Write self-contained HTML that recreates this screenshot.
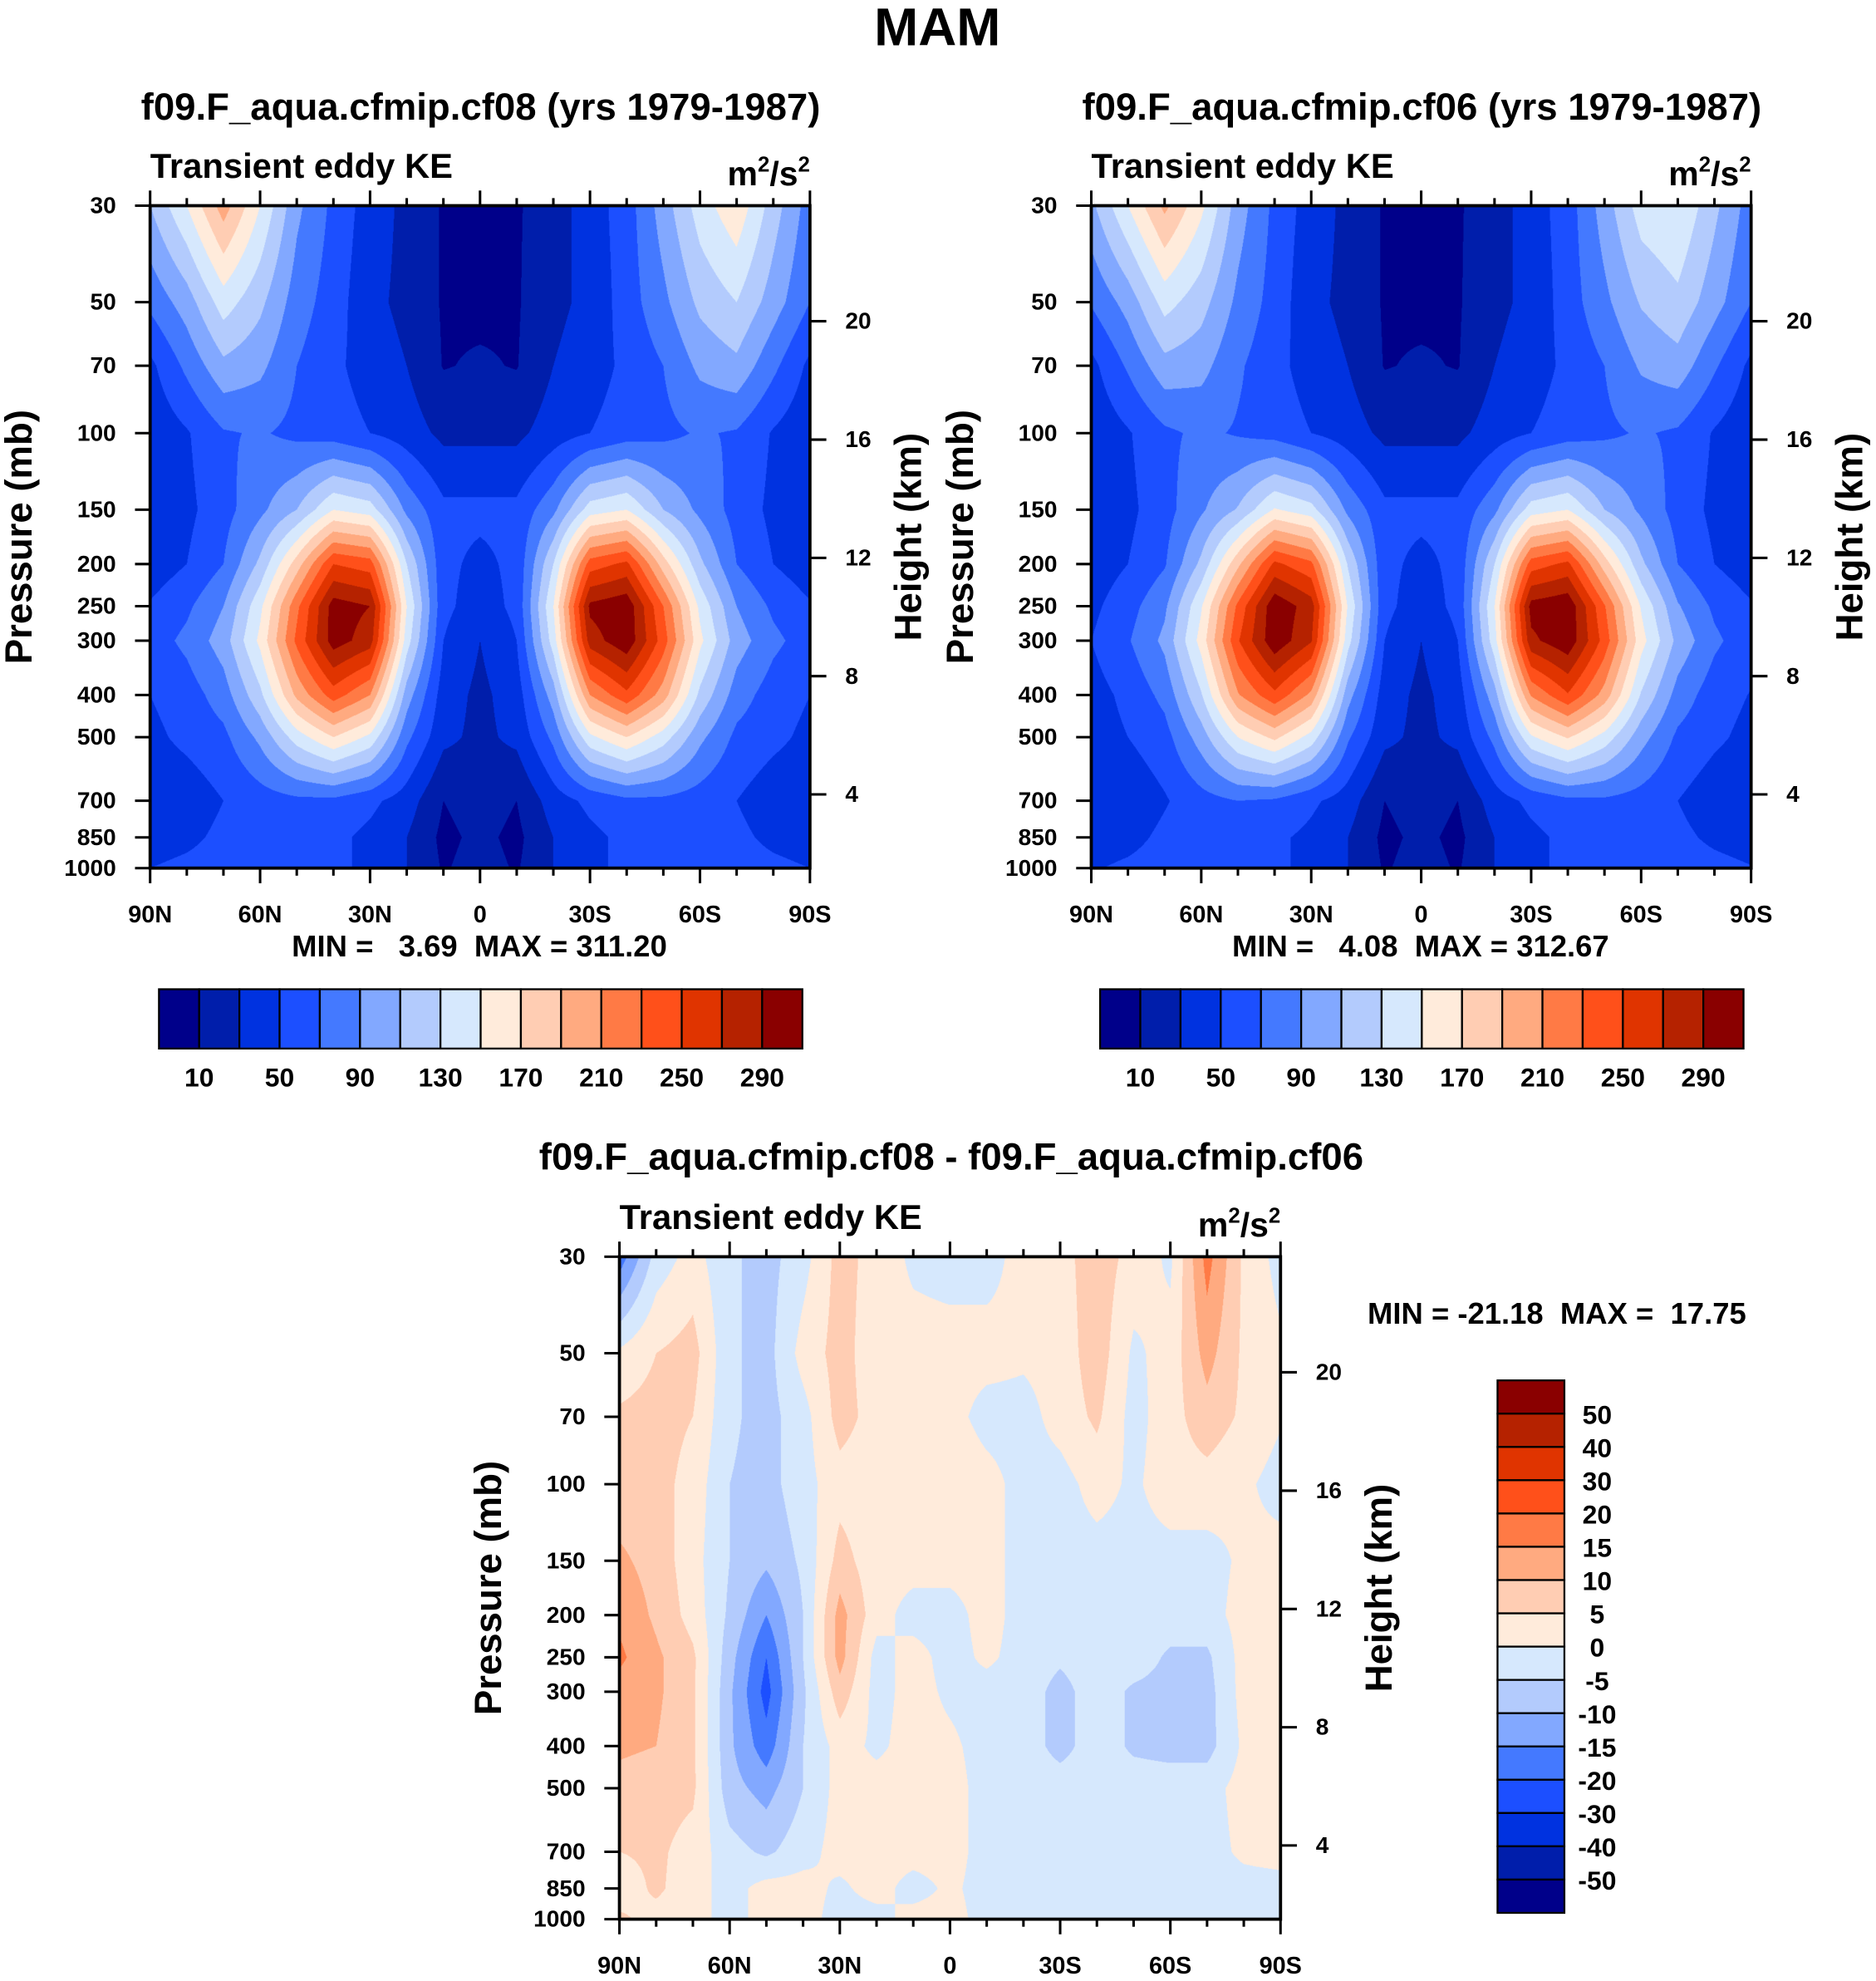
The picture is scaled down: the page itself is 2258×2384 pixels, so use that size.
<!DOCTYPE html>
<html><head><meta charset="utf-8">
<style>
html,body{margin:0;padding:0;background:#fff;}
body{width:2258px;height:2384px;overflow:hidden;position:relative;}
#wrap{position:absolute;left:0;top:0;width:1487px;height:1570px;transform-origin:0 0;transform:scale(1.51849,1.51847);}
canvas{position:absolute;}
svg{position:absolute;left:0;top:0;}
text{font-family:"Liberation Sans",Arial,sans-serif;font-weight:bold;fill:#000;}
</style></head>
<body>
<div id="wrap">
<canvas id="c1" style="left:119px;top:163px;width:523px;height:525px" width="1046" height="1050"></canvas>
<canvas id="c2" style="left:865px;top:163px;width:523px;height:525px" width="1046" height="1050"></canvas>
<canvas id="c3" style="left:491px;top:996px;width:524px;height:525px" width="1048" height="1050"></canvas>
<svg id="svg" width="1487" height="1570" viewBox="0 0 1487 1570">
<text x="743" y="36" font-size="42" text-anchor="middle">MAM</text>
<text x="381" y="95" font-size="30" text-anchor="middle">f09.F_aqua.cfmip.cf08 (yrs 1979-1987)</text>
<text x="1127" y="95" font-size="30" text-anchor="middle">f09.F_aqua.cfmip.cf06 (yrs 1979-1987)</text>
<text x="754" y="927" font-size="30" text-anchor="middle">f09.F_aqua.cfmip.cf08 - f09.F_aqua.cfmip.cf06</text>
<text x="380" y="758" font-size="24" text-anchor="middle" xml:space="preserve">MIN =   3.69  MAX = 311.20</text>
<text x="1126" y="758" font-size="24" text-anchor="middle" xml:space="preserve">MIN =   4.08  MAX = 312.67</text>
<text x="1084" y="1049" font-size="24" xml:space="preserve">MIN = -21.18  MAX =  17.75</text>
</svg>
</div>
<script>
const lats=["90N","80N","70N","60N","50N","40N","30N","20N","10N","0","10S","20S","30S","40S","50S","60S","70S","80S","90S"];
const levs=[30,50,70,100,150,200,250,300,400,500,700,850,1000];
const xTickLabels=["90N","60N","30N","0","30S","60S","90S"];
const heightTicks=[20,16,12,8,4];
const heightTickPressures=[55.3,103.5,193.6,362,677];
const keBounds=[10,30,50,70,90,110,130,150,170,190,210,230,250,270,290];
const keLabels=["10","50","90","130","170","210","250","290"];
const diffBounds=[-50,-40,-30,-20,-15,-10,-5,0,5,10,15,20,30,40,50];
const diffLabels=["-50","-40","-30","-20","-15","-10","-5","0","5","10","15","20","30","40","50"];
const palette=["#00008a","#001eab","#0032e0","#1c4fff","#4479ff","#82a8ff","#b3cbfd","#d6e8fd","#ffebdb","#ffcdb3","#ffaa80","#ff7a45","#ff501a","#e03400","#b52200","#8a0000"];
const ke08=[
[110,150,200,150,95,65,40,25,8,5,8,20,40,60,100,140,165,120,80],
[75,100,140,115,80,60,35,25,8,6,8,25,35,60,85,115,130,100,70],
[45,75,105,95,70,55,40,30,9,12,9,30,40,55,70,95,105,75,45],
[35,48,68,72,65,60,50,40,25,25,25,40,50,60,65,72,68,48,35],
[35,45,62,85,110,150,140,85,55,55,55,85,140,150,110,85,62,45,35],
[38,50,70,115,180,250,240,130,55,45,55,130,240,255,180,115,70,50,38],
[52,66,90,145,225,300,290,150,55,40,55,150,295,305,230,145,90,66,52],
[60,75,100,155,235,300,280,140,50,30,50,140,280,305,240,155,100,75,60],
[50,60,80,125,195,240,210,100,40,25,40,100,210,245,200,125,80,60,50],
[45,55,65,95,140,170,145,75,35,25,35,75,145,170,140,95,65,55,45],
[35,38,50,60,65,65,55,40,10,20,10,40,55,65,65,60,50,38,35],
[40,45,55,60,60,55,45,30,5,15,5,30,45,55,60,60,55,45,40],
[50,55,60,62,60,55,45,30,8,18,8,30,45,55,60,62,60,55,50]];
const ke06=[
[105,150,195,155,100,65,40,25,8,5,8,20,40,60,100,140,150,115,80],
[72,98,138,118,85,62,35,25,8,6,8,25,35,60,85,112,125,98,70],
[44,73,103,97,73,57,40,30,9,12,9,30,40,55,70,93,102,73,45],
[35,48,66,74,68,62,50,40,25,25,25,40,50,60,66,72,67,48,35],
[34,45,62,87,112,152,138,85,55,55,55,85,140,150,110,86,62,45,35],
[38,50,68,115,185,255,235,128,55,45,55,130,240,255,180,115,70,50,38],
[45,62,86,148,235,305,280,148,55,40,55,150,298,306,232,148,92,66,52],
[50,68,95,158,248,305,272,138,50,30,50,142,285,305,242,158,104,74,58],
[42,55,76,128,208,245,205,98,40,25,40,102,212,248,202,128,82,59,49],
[40,50,62,100,150,175,142,73,35,25,35,76,147,172,142,98,66,54,44],
[33,35,48,62,70,67,54,40,10,20,10,40,55,65,66,61,50,38,34],
[39,43,55,61,59,54,45,30,5,15,5,30,45,55,60,61,55,46,41],
[48,54,60,63,59,54,45,30,8,18,8,30,45,55,60,63,60,56,51]];
const kediff=[
[-18,-3,2,-4,-7,-2,7,3,-1,-2,-2,2,3,8,3,-1,17,4,-2],
[1,5,7,-4,-7,2,7,2,2,2,2,1,2,8,-1,2,12,4,1],
[6,7,5,-4,-7,-2,7,3,2,2,-2,-2,2,6,-2,3,8,4,0.5],
[7,7,3,-5,-7,-2,3,2,2,4,2,-2,-2,2,-1,3,3,1,-2],
[11,8,2,-5,-9,-4,7,2,2,2,2,-2,-2,-2,-2,-2,-2,1,2],
[14,9,3,-6,-15,-5,12,2,-2,-2,2,-2,-2,-2,-2,-2,-2,2,2],
[16,11,6,-8,-20,-5,12,-2,2,-2,1,-2,-4,-2,-2,-6,-6,2,2],
[13,11,6,-9,-22,-6,8,-2,2,-1,-2,-2,-7,-2,-6,-7,-7,2,2],
[11,10,6,-9,-18,-5,2,-1,2,1,-2,-2,-7,-2,-6,-7,-7,1,2],
[8,7,6,-8,-12,-5,2,2,2,2,-2,-2,-2,-2,-2,-2,-2,2,2],
[5,6,3,-3,-6,-2,2,2,2,2,-2,-2,-2,-2,-2,-2,-2,1,2],
[2,6,2,-2,2,2,-1,2,-2,1,-2,-2,-2,-2,-2,-2,-2,-2,-2],
[6,3,2,-2,2,2,-2,-2,2,2,-2,-2,-2,-2,-2,-2,-2,-2,-2]];

const NS="http://www.w3.org/2000/svg";
const svg=document.getElementById('svg');
const LP=Math.log(1000/30);
function yScale(p,top,h){return top+h*Math.log(p/30)/LP;}
function xScaleIdx(i,left,w){return left+w*i/(lats.length-1);}
function hexRgb(h){return [parseInt(h.substr(1,2),16),parseInt(h.substr(3,2),16),parseInt(h.substr(5,2),16)];}
const rgbPal=palette.map(hexRgb);
function binOf(v,b){let k=0;while(k<b.length&&v>=b[k])k++;return k;}
function drawField(id,data,bounds){
  const cv=document.getElementById(id),ctx=cv.getContext('2d');
  const W=cv.width,H=cv.height,img=ctx.createImageData(W,H);
  const logs=levs.map(p=>Math.log(p/30)/LP);
  for(let py=0;py<H;py++){
    const t=(py+0.5)/H;let r=0;while(r<levs.length-2&&t>logs[r+1])r++;
    const fy=Math.min(1,Math.max(0,(t-logs[r])/(logs[r+1]-logs[r])));
    for(let px=0;px<W;px++){
      const fx=(px+0.5)/W*(lats.length-1);let c=Math.min(lats.length-2,Math.floor(fx));const ax=fx-c;
      const v=(data[r][c]*(1-ax)+data[r][c+1]*ax)*(1-fy)+(data[r+1][c]*(1-ax)+data[r+1][c+1]*ax)*fy;
      const col=rgbPal[binOf(v,bounds)];const o=(py*W+px)*4;
      img.data[o]=col[0];img.data[o+1]=col[1];img.data[o+2]=col[2];img.data[o+3]=255;
    }
  }
  ctx.putImageData(img,0,0);
}
drawField('c1',ke08,keBounds);
drawField('c2',ke06,keBounds);
drawField('c3',kediff,diffBounds);

function el(tag,a){const e=document.createElementNS(NS,tag);for(const k in a)e.setAttribute(k,a[k]);svg.appendChild(e);return e;}
function txt(x,y,s,size,anchor){const e=el('text',{x:x,y:y,'font-size':size,'text-anchor':anchor||'middle'});e.textContent=s;return e;}

function panel(left,top,w,h,pre){
  const fr=el('rect',{x:left,y:top,width:w,height:h,fill:'none',stroke:'#000','stroke-width':2.5});
  
  
  for(let i=0;i<lats.length;i++){
    const x=xScaleIdx(i,left,w);const major=i%3===0;const L=major?12:6;
    const t1=el('line',{x1:x,y1:top,x2:x,y2:top-L,stroke:'#000','stroke-width':2});
    
    
    const t2=el('line',{x1:x,y1:top+h,x2:x,y2:top+h+L,stroke:'#000','stroke-width':2});
    
    
  }
  xTickLabels.forEach((s,j)=>{
    const t=txt(xScaleIdx(j*3,left,w),top+h+43,s,19);
    
    
  });
  levs.forEach(p=>{
    const y=yScale(p,top,h);
    const l=el('line',{x1:left,y1:y,x2:left-12,y2:y,stroke:'#000','stroke-width':2});
    
    
    const t=txt(left-27,y+6,String(p),18.5,'end');
    
    
  });
  heightTicks.forEach((k,j)=>{
    const y=yScale(heightTickPressures[j],top,h);
    const l=el('line',{x1:left+w,y1:y,x2:left+w+13,y2:y,stroke:'#000','stroke-width':2});
    
    
    const t=txt(left+w+28,y+6,String(k),18.5,'start');
    
    
  });
  const yl=txt(0,0,'Pressure (mb)',30);
  yl.setAttribute('transform','translate('+(left-94)+','+(top+h/2)+') rotate(-90)');
  
  
  const hl=txt(0,0,'Height (km)',30);
  hl.setAttribute('transform','translate('+(left+w+88)+','+(top+h/2)+') rotate(-90)');
  
  
  const st=txt(left,top-22,'Transient eddy KE',27.5,'start');
  
  
  const u=el('text',{x:left+w,y:top-16,'font-size':27,'text-anchor':'end'});
  u.innerHTML='m<tspan dy="-11" font-size="17">2</tspan><tspan dy="11">/s</tspan><tspan dy="-11" font-size="17">2</tspan>';
  
  
}
panel(119,163,523,525,'cf08');
panel(865,163,523,525,'cf06');
panel(491,996,524,525,'diff');

function hbar(left,top,w,h,pre){
  const bw=w/palette.length;
  palette.forEach((c,i)=>{
    const r=el('rect',{x:left+i*bw,y:top,width:bw,height:h,fill:c,stroke:'#000','stroke-width':1.5});
    
    
  });
  keLabels.forEach((s,j)=>{
    const t=txt(left+(1+2*j)*bw,top+h+30,s,21);
    
    
  });
}
hbar(126,784,510,47,'cf08');
hbar(872,784,510,47,'cf06');
(function(){
  const left=1187,top=1094,w=53,h=422,bh=h/palette.length;
  for(let i=0;i<palette.length;i++){
    const r=el('rect',{x:left,y:top+i*bh,width:w,height:bh,fill:palette[palette.length-1-i],stroke:'#000','stroke-width':1.5});
    
    
  }
  for(let j=0;j<diffLabels.length;j++){
    const t=txt(1266,top+(diffLabels.length-j)*bh+8,diffLabels[j],21);
    
    
  }
})();
</script>
</body></html>
